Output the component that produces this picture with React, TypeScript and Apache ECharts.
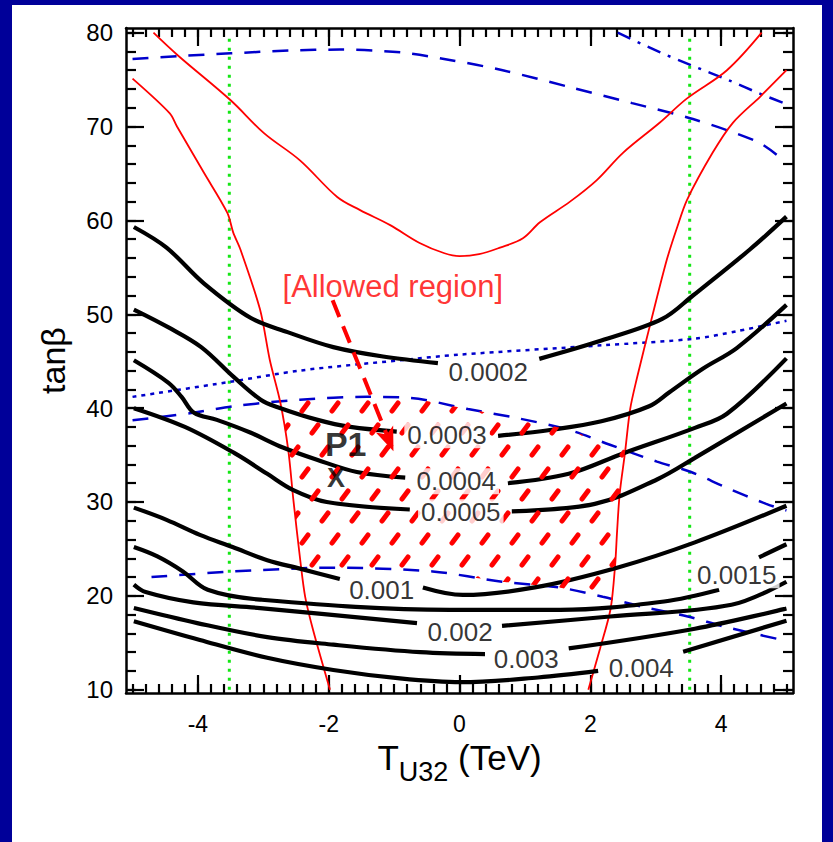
import React, { useEffect, useRef } from "react";
import * as echarts from "echarts";

const FONT = '"Liberation Sans", Arial, Helvetica, sans-serif';

// ---------- tick values ----------
const xMajorTicks = [-4, -2, 0, 2, 4];
const xMinorTicks = Array.from({ length: 51 }, (_, i) => Math.round((-5 + i * 0.2) * 10) / 10);
const yMajorTicks = [10, 20, 30, 40, 50, 60, 70, 80];
const yMinorTicks = Array.from({ length: 36 }, (_, i) => 10 + 2 * i);

// ---------- contour lines (left / right of the inline label) ----------
const c0002L = [[-4.98, 59.3], [-4.48, 57.1], [-3.91, 53.3], [-3.19, 49.6], [-2.63, 48.1], [-1.93, 46.5], [-1.17, 45.5], [-0.33, 44.8]];
const c0002R = [[1.22, 45.25], [2.17, 47.2], [3.1, 49.5], [3.57, 52.0], [4.44, 56.9], [5.0, 60.4]];
const c0003L = [[-4.98, 50.5], [-4.45, 48.6], [-3.95, 46.5], [-3.45, 43.3], [-3.04, 40.9], [-2.78, 40.1], [-2.17, 38.75], [-1.67, 38.0], [-0.96, 37.5]];
const c0003R = [[0.59, 37.05], [1.41, 37.7], [2.17, 38.6], [2.9, 40.2], [3.21, 41.7], [3.72, 44.2], [4.24, 46.4], [5.0, 51.0]];
const c0004L = [[-4.98, 45.1], [-4.45, 42.7], [-4.25, 41.2], [-4.06, 39.5], [-3.71, 38.75], [-3.2, 37.4], [-2.7, 35.8], [-2.18, 34.5], [-1.57, 33.2], [-0.83, 32.6]];
const c0004R = [[0.74, 32.0], [1.67, 33.0], [2.51, 35.2], [3.6, 37.9], [4.09, 39.4], [5.0, 45.3]];
const c0005L = [[-4.98, 40.0], [-4.2, 38.0], [-3.44, 35.2], [-2.94, 33.0], [-2.55, 31.3], [-2.03, 30.0], [-0.76, 29.2]];
const c0005R = [[0.8, 29.0], [2.07, 29.8], [3.02, 32.4], [3.6, 34.7], [5.0, 40.5]];
const c001L = [[-4.98, 29.4], [-4.48, 28.1], [-3.97, 26.5], [-3.47, 25.2], [-2.94, 23.8], [-2.44, 22.9], [-1.83, 21.8]];
const c001R = [[-0.56, 20.9], [0.05, 20.1], [1.15, 20.9], [2.41, 23.0], [3.6, 25.7], [5.0, 29.6]];
const c0015L = [[-4.98, 25.2], [-4.62, 24.2], [-4.23, 22.6], [-3.85, 20.65], [-3.05, 19.6], [-0.15, 18.5], [1.54, 18.5], [3.13, 19.4], [3.97, 20.65]];
const c0015R = [[4.58, 24.1], [5.0, 25.5]];
const c002L = [[-4.98, 21.2], [-4.8, 20.4], [-4.07, 19.3], [-3.05, 18.7], [-0.65, 17.1]];
const c002R = [[0.65, 16.8], [2.3, 17.8], [4.16, 19.05], [5.0, 21.5]];
const c003L = [[-4.98, 18.7], [-4.01, 17.1], [-2.94, 15.6], [-1.93, 14.8], [-0.6, 14.0], [0.39, 13.8]];
const c003R = [[1.67, 14.4], [3.6, 16.5], [5.0, 18.65]];
const c004L = [[-4.98, 17.3], [-3.97, 15.3], [-2.94, 13.4], [-1.93, 12.1], [-0.91, 11.2], [0.02, 10.8], [1.2, 11.3], [2.12, 12.0]];
const c004R = [[3.42, 14.05], [5.0, 17.35]];

const contourSegments = [c0002L, c0002R, c0003L, c0003R, c0004L, c0004R, c0005L, c0005R, c001L, c001R, c0015L, c0015R, c002L, c002R, c003L, c003R, c004L, c004R];

const contourLabels = [
  { name: "0.0002", value: [0.44, 43.8] },
  { name: "0.0003", value: [-0.19, 37.1] },
  { name: "0.0004", value: [-0.05, 32.2] },
  { name: "0.0005", value: [0.02, 28.9] },
  { name: "0.001", value: [-1.19, 20.6] },
  { name: "0.0015", value: [4.24, 22.2] },
  { name: "0.002", value: [0.01, 16.2] },
  { name: "0.003", value: [1.02, 13.3] },
  { name: "0.004", value: [2.78, 12.3] },
];

// ---------- red curves ----------
const redU = [[-4.68, 80], [-4.31, 77.6], [-3.5, 72.8], [-2.99, 69.3], [-2.44, 66.4], [-1.87, 62.5], [-1.52, 61.1], [-1.06, 59.5], [-0.61, 57.6], [-0.23, 56.5], [0, 56.2], [0.3, 56.4], [0.62, 57.1], [0.97, 58.1], [1.23, 59.8], [1.69, 62.0], [2.1, 64.3], [2.5, 67.2], [3.06, 70.4], [3.48, 73.0], [4.09, 76.0], [4.62, 80]];
const redLeft = [[-5.0, 75.1], [-4.43, 71.4], [-4.32, 70.0], [-3.91, 65.1], [-3.55, 60.8], [-3.46, 58.7], [-3.35, 56.9], [-3.05, 50.5], [-2.9, 45.1], [-2.74, 40.6], [-2.62, 35.6], [-2.54, 30.2], [-2.43, 23.5], [-2.36, 19.9], [-2.24, 16.4], [-1.98, 10.0]];
const redRight = [[5.0, 76.0], [4.6, 73.2], [4.18, 70.4], [3.87, 67.2], [3.48, 62.2], [3.33, 59.3], [3.17, 55.8], [2.93, 49.3], [2.71, 43.1], [2.61, 39.9], [2.53, 35.2], [2.45, 30.9], [2.41, 26.9], [2.38, 23.3], [2.31, 18.6], [2.15, 14.4], [1.97, 10.0]];

// ---------- blue curves ----------
const blueTop = [[-5.0, 77.2], [-4.31, 77.5], [-3.5, 77.8], [-2.6, 78.1], [-1.83, 78.2], [-0.9, 77.9], [-0.15, 77.1], [0.66, 76.0], [1.69, 74.2], [2.64, 72.5], [3.57, 70.8], [4.55, 68.4], [4.85, 67.0]];
const blueDashDot = [[2.42, 80], [3.07, 77.9], [3.52, 76.6], [4.13, 74.9], [4.63, 73.4], [5.0, 72.4]];
const blueDotted = [[-5.0, 41.2], [-3.51, 42.8], [-2.44, 44.0], [-0.91, 45.1], [0, 45.7], [2.19, 46.7], [3.6, 47.4], [4.24, 48.2], [5.0, 49.3]];
const blueMid = [[-5.0, 38.7], [-4.08, 39.5], [-3.46, 40.2], [-2.44, 40.9], [-1.41, 41.2], [-0.76, 41.1], [0.13, 39.9], [0.91, 38.9], [1.67, 37.7], [2.3, 36.1], [3.02, 34.3], [3.54, 33.2], [4.06, 31.6], [4.69, 29.8], [5.0, 29.1]];
const blueLow = [[-4.71, 22.0], [-3.46, 22.6], [-1.94, 23.0], [-0.41, 22.6], [0.65, 21.5], [1.52, 20.9], [2.19, 19.9], [2.82, 18.8], [3.49, 17.8], [4.06, 16.7], [5.0, 15.2]];

// ---------- green vertical lines ----------
const greenLeft = [[-3.52, 10], [-3.52, 80]];
const greenRight = [[3.52, 10], [3.52, 80]];

// ---------- annotations ----------
const allowedText = [{ name: "[Allowed region]", value: [-1.02, 53.0] }];
const p1Text = [{ name: "P1", value: [-1.74, 36.2] }];
const xMarker = [{ name: "X", value: [-1.89, 32.6] }];
const arrowFrom = [-1.94, 51.5];
const arrowTo = [-1.01, 35.4];

// ---------- helpers for the hatched region ----------
function yAt(pts: number[][], x: number) {
  for (let i = 0; i < pts.length - 1; i++) {
    const [x0, y0] = pts[i];
    const [x1, y1] = pts[i + 1];
    if ((x - x0) * (x - x1) <= 0 && x0 !== x1) return y0 + ((y1 - y0) * (x - x0)) / (x1 - x0);
  }
  return NaN;
}
function xAtY(pts: number[][], y: number) {
  for (let i = 0; i < pts.length - 1; i++) {
    const [x0, y0] = pts[i];
    const [x1, y1] = pts[i + 1];
    if ((y - y0) * (y - y1) <= 0 && y0 !== y1) return x0 + ((x1 - x0) * (y - y0)) / (y1 - y0);
  }
  return NaN;
}
function insideBand(x: number, y: number) {
  return x >= xAtY(redLeft, y) && x <= xAtY(redRight, y);
}
function buildRegion() {
  const top: number[][] = [];
  const bottom: number[][] = [];
  for (let i = 0; i <= 600; i++) {
    const x = -3 + i * 0.01;
    const yt = yAt(blueMid, x);
    if (insideBand(x, yt)) top.push([x, yt]);
    const yb = yAt(blueLow, x);
    if (insideBand(x, yb)) bottom.push([x, yb]);
  }
  const right: number[][] = [];
  const yTR = top[top.length - 1][1];
  const yBR = bottom[bottom.length - 1][1];
  for (let y = yTR; y >= yBR; y -= 0.25) right.push([xAtY(redRight, y), y]);
  const left: number[][] = [];
  const yBL = bottom[0][1];
  const yTL = top[0][1];
  for (let y = yBL; y <= yTL; y += 0.25) left.push([xAtY(redLeft, y), y]);
  return [...top, ...right, ...bottom.slice().reverse(), ...left];
}

function hatchUrl() {
  const centers = [[5, 11], [15, 33], [25, 55]];
  let lines = "";
  for (const [cx, cy] of centers) {
    for (const dx of [-30, 0, 30]) {
      for (const dy of [-66, 0, 66]) {
        const x = cx + dx;
        const y = cy + dy;
        lines += `<line x1='${x - 3}' y1='${y + 4}' x2='${x + 3}' y2='${y - 4}'/>`;
      }
    }
  }
  const svg = `<svg xmlns='http://www.w3.org/2000/svg' width='30' height='66'><g stroke='#ff0000' stroke-width='5' stroke-linecap='round'>${lines}</g></svg>`;
  return "data:image/svg+xml;charset=utf-8," + encodeURIComponent(svg);
}

function lineSeries(data: number[][], color: string, width: number, type: any, smooth: number | boolean = false, z = 2) {
  return {
    type: "line",
    data,
    showSymbol: false,
    symbol: "none",
    smooth,
    silent: true,
    z,
    lineStyle: { color, width, type, cap: "butt" },
  };
}

function xAxisCfg(position: string, ticks: number[], len: number, withLine: boolean, withLabel: boolean) {
  return {
    type: "value",
    position,
    min: -5.1,
    max: 5.1,
    axisLine: { show: withLine, onZero: false, lineStyle: { color: "#000", width: 2.5 } },
    axisTick: { show: true, inside: true, length: len, customValues: ticks, lineStyle: { color: "#000", width: 2.2 } },
    axisLabel: withLabel
      ? { show: true, customValues: xMajorTicks, margin: 19, fontSize: 23, color: "#000", fontFamily: FONT }
      : { show: false },
    splitLine: { show: false },
  };
}
function yAxisCfg(position: string, ticks: number[], len: number, withLine: boolean, withLabel: boolean) {
  return {
    type: "value",
    position,
    min: 9.65,
    max: 80.5,
    axisLine: { show: withLine, onZero: false, lineStyle: { color: "#000", width: 2.5 } },
    axisTick: { show: true, inside: true, length: len, customValues: ticks, lineStyle: { color: "#000", width: 2.2 } },
    axisLabel: withLabel
      ? { show: true, customValues: yMajorTicks, margin: 13, fontSize: 24, color: "#000", fontFamily: FONT }
      : { show: false },
    splitLine: { show: false },
  };
}

export default function App() {
  const ref = useRef<HTMLDivElement>(null);
  useEffect(() => {
    const chart = echarts.init(ref.current!, null, { renderer: "svg" });
    const region = buildRegion();
    const pattern = { image: hatchUrl(), repeat: "repeat", imageWidth: 30, imageHeight: 66 };

    const bottomMajor: any = xAxisCfg("bottom", xMajorTicks, 18, true, true);
    bottomMajor.name = "{a|T}{b|U32}{a| (TeV)}";
    bottomMajor.nameLocation = "middle";
    bottomMajor.nameGap = 34;
    bottomMajor.nameTextStyle = {
      color: "#000",
      fontFamily: FONT,
      rich: {
        a: { fontSize: 35, color: "#000", fontFamily: FONT },
        b: { fontSize: 27, color: "#000", fontFamily: FONT, padding: [30, 0, 0, 0] },
      },
    };
    const leftMajor: any = yAxisCfg("left", yMajorTicks, 18, true, true);
    leftMajor.name = "tanβ";
    leftMajor.nameLocation = "middle";
    leftMajor.nameGap = 56;
    leftMajor.nameTextStyle = { fontSize: 34, color: "#000", fontFamily: FONT };

    const series: any[] = [];
    series.push(lineSeries(greenLeft, "#14e614", 3, [3, 6]));
    series.push(lineSeries(greenRight, "#14e614", 3, [3, 6]));
    series.push(lineSeries(blueTop, "#0000cc", 2.5, [16, 12], 0.3));
    series.push(lineSeries(blueDashDot, "#0000cc", 2.5, [14, 8, 3, 8], 0.3));
    series.push(lineSeries(blueDotted, "#0000cc", 2.5, [4, 5], 0.3));
    series.push(lineSeries(blueMid, "#0000cc", 2.5, [16, 12], 0.3));
    series.push(lineSeries(blueLow, "#0000cc", 2.5, [16, 12], 0.3));
    series.push(lineSeries(redU, "#ff0000", 1.8, "solid", 0.35));
    series.push(lineSeries(redLeft, "#ff0000", 1.8, "solid", 0.3));
    series.push(lineSeries(redRight, "#ff0000", 1.8, "solid", 0.3));
    for (const seg of contourSegments) {
      series.push(lineSeries(seg, "#000", 4.2, "solid", 0.35));
    }
    series.push({
      type: "custom",
      coordinateSystem: "cartesian2d",
      data: [[0, 30]],
      silent: true,
      z: 3,
      renderItem: (_params: any, api: any) => ({
        type: "polygon",
        shape: { points: region.map((p) => api.coord(p)) },
        style: { fill: pattern, stroke: null },
      }),
    });
    series.push({
      type: "scatter",
      data: contourLabels,
      symbolSize: 1,
      silent: true,
      z: 10,
      itemStyle: { color: "rgba(0,0,0,0)" },
      label: {
        show: true,
        position: "inside",
        formatter: "{b}",
        fontSize: 26,
        color: "#000",
        fontFamily: FONT,
        backgroundColor: "#fff",
        padding: [0, 3],
      },
    });
    series.push({
      type: "scatter",
      data: allowedText,
      symbolSize: 1,
      silent: true,
      z: 10,
      itemStyle: { color: "rgba(0,0,0,0)" },
      label: { show: true, position: "inside", formatter: "{b}", fontSize: 31, color: "#ff0000", fontFamily: FONT },
      markLine: {
        silent: true,
        symbol: ["none", "arrow"],
        symbolSize: [14, 24],
        label: { show: false },
        lineStyle: { color: "#ff0000", width: 4, type: [18, 10] },
        data: [[{ coord: arrowFrom }, { coord: arrowTo }]],
      },
    });
    series.push({
      type: "scatter",
      data: p1Text,
      symbolSize: 1,
      silent: true,
      z: 10,
      itemStyle: { color: "rgba(0,0,0,0)" },
      label: { show: true, position: "inside", formatter: "{b}", fontSize: 34, fontWeight: "bold", color: "#000", fontFamily: FONT },
    });
    series.push({
      type: "scatter",
      data: xMarker,
      symbolSize: 1,
      silent: true,
      z: 10,
      itemStyle: { color: "rgba(0,0,0,0)" },
      label: { show: true, position: "inside", formatter: "{b}", fontSize: 27, fontWeight: "bold", color: "#000", fontFamily: FONT },
    });

    chart.setOption({
      animation: false,
      backgroundColor: "transparent",
      grid: { left: 126, right: 40, top: 28, bottom: 149, containLabel: false, outerBoundsMode: "none" },
      xAxis: [
        bottomMajor,
        xAxisCfg("bottom", xMinorTicks, 9, false, false),
        xAxisCfg("top", xMajorTicks, 18, true, false),
        xAxisCfg("top", xMinorTicks, 9, false, false),
      ],
      yAxis: [
        leftMajor,
        yAxisCfg("left", yMinorTicks, 10, false, false),
        yAxisCfg("right", yMajorTicks, 18, true, false),
        yAxisCfg("right", yMinorTicks, 10, false, false),
      ],
      series,
    });
    return () => chart.dispose();
  }, []);

  return (
    <div style={{ position: "fixed", left: 0, top: 0, width: 833, height: 842, background: "#000099", overflow: "hidden" }}>
      <div style={{ position: "absolute", left: 12, top: 5, width: 810, height: 837, background: "#ffffff" }} />
      <div ref={ref} style={{ position: "absolute", left: 0, top: 0, width: 833, height: 842 }} />
    </div>
  );
}
